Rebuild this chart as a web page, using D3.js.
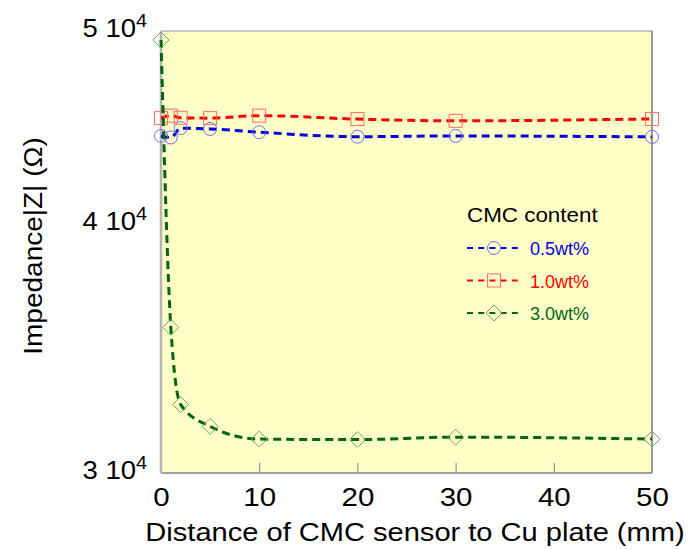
<!DOCTYPE html>
<html>
<head>
<meta charset="UTF-8">
<script src="https://cdnjs.cloudflare.com/ajax/libs/d3/7.8.5/d3.min.js"></script>
<style>
  body { margin: 0; background: #fff; }
  svg text { font-family: Arial, "Liberation Sans", sans-serif; }
</style>
</head>
<body>
<svg id="chart" width="690" height="549"></svg>
<script>
// distance of sensor to Cu plate (mm)
var distance = [0, 1, 2, 5, 10, 20, 30, 50];
// |Z| values (ohm) for each CMC content
var z05 = [44290, 44210, 44690, 44650, 44480, 44250, 44290, 44240];
var z10 = [45210, 45340, 45230, 45210, 45340, 45160, 45070, 45170];
var z30 = [49480, 35500, 32470, 31660, 31200, 31180, 31270, 31200];
var seriesNames = ["0.5wt%", "1.0wt%", "3.0wt%"];
var xTicks = [0, 10, 20, 30, 40, 50];
var yTicks = [30000, 40000, 50000];

var svg = d3.select("#chart");
var pLeft = 161, pRight = 652, pTop = 31, pBottom = 473;
var stretch = 1.18; // the original's lettering is a bit wide

var x = d3.scaleLinear().domain([0, 50]).range([pLeft, pRight]);
var y = d3.scaleLog().domain([30000, 50000]).range([pBottom, pTop]);

var series = [
    { name: seriesNames[0], values: z05, line: "#0000e0", mark: "#6a6aff", shape: "circle" },
    { name: seriesNames[1], values: z10, line: "#ff0000", mark: "#ff6a6a", shape: "square" },
    { name: seriesNames[2], values: z30, line: "#006414", mark: "#6aa86a", shape: "diamond" }
];

// plot background
svg.append("rect")
    .attr("x", pLeft).attr("y", pTop)
    .attr("width", pRight - pLeft).attr("height", pBottom - pTop)
    .style("fill", "#ffffc8");

// inner x ticks
svg.append("g")
    .attr("transform", `translate(0,${pBottom})`)
    .call(d3.axisTop(x).tickValues([10, 20, 30, 40]).tickSize(10).tickFormat(""))
    .call(g => g.select(".domain").remove())
    .selectAll("line").style("stroke", "#808080");

// x tick labels
svg.append("g")
    .attr("transform", `translate(0,${pBottom})`)
    .call(d3.axisBottom(x).tickValues(xTicks).tickSize(0).tickPadding(0))
    .call(g => g.select(".domain").remove())
    .selectAll("text")
    .attr("y", 33).attr("dy", null)
    .attr("transform", `scale(${stretch},1)`)
    .style("font-size", "25px")
    .style("fill", "#000");

// y tick labels "n 10^4"
var yAxis = svg.append("g")
    .attr("transform", "translate(147,0)")
    .call(d3.axisLeft(y).tickValues(yTicks).tickSize(0).tickPadding(0).tickFormat(""));
yAxis.select(".domain").remove();
yAxis.selectAll(".tick text")
    .attr("x", 0).attr("y", 5).attr("dy", null)
    .attr("transform", "scale(1.1,1)")
    .style("font-size", "25px")
    .style("fill", "#000")
    .each(function (d) {
        var t = d3.select(this);
        t.append("tspan").text((d / 10000) + " 10");
        t.append("tspan").attr("dy", -10).style("font-size", "18px").text("4");
    });

// frame
svg.append("line").attr("x1", pLeft).attr("x2", pRight).attr("y1", pTop).attr("y2", pTop)
    .style("stroke", "#b4b4b4").style("stroke-width", 1.5);
svg.append("line").attr("x1", pLeft).attr("x2", pRight).attr("y1", pBottom).attr("y2", pBottom)
    .style("stroke", "#a0a0a0").style("stroke-width", 2);
svg.append("line").attr("x1", pLeft).attr("x2", pLeft).attr("y1", pTop).attr("y2", pBottom)
    .style("stroke", "#b4b4b4").style("stroke-width", 2.5);
svg.append("line").attr("x1", pRight).attr("x2", pRight).attr("y1", pTop).attr("y2", pBottom)
    .style("stroke", "#787878").style("stroke-width", 1.5);

// curves
var line = d3.line()
    .x((d, i) => x(distance[i]))
    .y(d => y(d))
    .curve(d3.curveMonotoneX);

function drawMarker(g, shape, color, cx, cy) {
    if (shape === "circle") {
        g.append("circle").attr("cx", cx).attr("cy", cy).attr("r", 6.5)
            .style("fill", "none").style("stroke", color).style("stroke-width", 1);
    } else if (shape === "square") {
        g.append("rect").attr("x", cx - 6.5).attr("y", cy - 6.5).attr("width", 13).attr("height", 13)
            .style("fill", "none").style("stroke", color).style("stroke-width", 1);
    } else {
        g.append("path")
            .attr("d", `M${cx},${cy - 8}L${cx + 8},${cy}L${cx},${cy + 8}L${cx - 8},${cy}Z`)
            .style("fill", "none").style("stroke", color).style("stroke-width", 1);
    }
}

series.forEach(s => {
    svg.append("path")
        .datum(s.values)
        .attr("d", line)
        .style("fill", "none")
        .style("stroke", s.line)
        .style("stroke-width", 3)
        .style("stroke-dasharray", "8,5");
    var mg = svg.append("g");
    s.values.forEach((v, i) => drawMarker(mg, s.shape, s.mark, x(distance[i]), y(v)));
});

// legend
var lg = svg.append("g").attr("transform", "translate(467,0)");
lg.append("text")
    .attr("transform", "translate(0,222) scale(1.12,1)")
    .style("font-size", "20px").text("CMC content");
series.forEach((s, i) => {
    var ly = 248 + i * 32.5;
    lg.append("line").attr("x1", 0).attr("x2", 56).attr("y1", ly).attr("y2", ly)
        .style("stroke", s.line).style("stroke-width", 2.2).style("stroke-dasharray", "6,5.2");
    drawMarker(lg, s.shape, s.mark, 27, ly);
    lg.append("text").attr("x", 63).attr("y", ly + 7).style("font-size", "18px")
        .style("fill", s.line).text(s.name);
});

// axis titles
svg.append("text")
    .attr("transform", "translate(415,541) scale(1.14,1)")
    .attr("text-anchor", "middle")
    .style("font-size", "25.5px")
    .text("Distance of CMC sensor to Cu plate (mm)");

svg.append("text")
    .attr("transform", "translate(42,246) rotate(-90) scale(1.12,1)")
    .attr("text-anchor", "middle")
    .style("font-size", "25px")
    .text("Impedance|Z| (\u03a9)");
</script>
</body>
</html>
